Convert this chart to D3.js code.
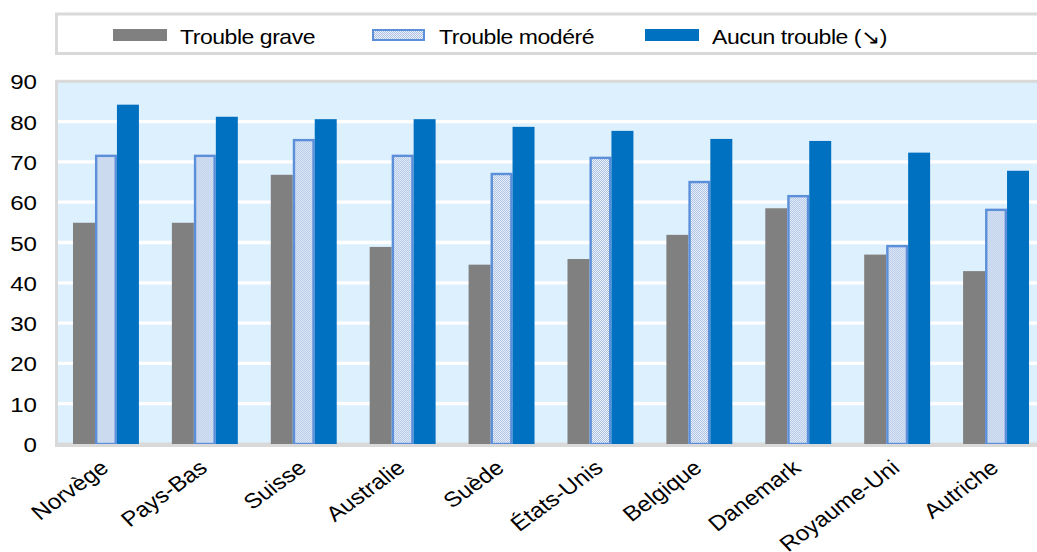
<!DOCTYPE html>
<html>
<head>
<meta charset="utf-8">
<script src="https://cdn.jsdelivr.net/npm/d3@7"></script>
<style>
  body { margin: 0; background: #fff; }
  text { font-family: "Liberation Sans", Arial, sans-serif; fill: #000; }
</style>
</head>
<body>
<div id="chart"></div>
<script>
    // data
    let countries = ["Norvège", "Pays-Bas", "Suisse", "Australie", "Suède", "États-Unis",
        "Belgique", "Danemark", "Royaume-Uni", "Autriche"];
    let seriesNames = ["Trouble grave", "Trouble modéré", "Aucun trouble (↘)"];
    let troubleGrave = [54.9, 54.9, 66.8, 48.9, 44.5, 45.9, 51.9, 58.5, 47.0, 42.9];
    let troubleModere = [71.8, 71.8, 75.7, 71.8, 67.3, 71.3, 65.3, 61.8, 49.4, 58.4];
    let aucunTrouble = [84.2, 81.2, 80.6, 80.6, 78.7, 77.7, 75.7, 75.2, 72.3, 67.8];
    let yTicks = [0, 10, 20, 30, 40, 50, 60, 70, 80, 90];

    let svgWidth = 1037;
    let svgHeight = 552;

    let plot = {left: 56.5, right: 1045.5, top: 81.3, bottom: 444};
    // the original text is a bit wider than it is tall
    let stretch = 1.15;

    let svg = d3.select("#chart")
        .append("svg")
        .attr("width", svgWidth)
        .attr("height", svgHeight);

    //dotted fill for the "modéré" bars
    let defs = svg.append("defs");
    let pat = defs.append("pattern")
        .attr("id", "dots")
        .attr("patternUnits", "userSpaceOnUse")
        .attr("width", 2)
        .attr("height", 2);
    pat.append("rect").attr("width", 2).attr("height", 2).attr("fill", "#eef3fb");
    pat.append("rect").attr("width", 1).attr("height", 1).attr("fill", "#a9c0e4");
    pat.append("rect").attr("x", 1).attr("y", 1).attr("width", 1).attr("height", 1).attr("fill", "#a9c0e4");

    let styles = [
        {fill: "#808080", stroke: "none"},
        {fill: "url(#dots)", stroke: "#5b8fd9"},
        {fill: "#0070c0", stroke: "none"}
    ];

    let rows = countries.map((c, i) => ({
        country: c,
        values: [troubleGrave[i], troubleModere[i], aucunTrouble[i]]
    }));

    //scales
    let x0 = d3.scaleBand()
        .domain(countries)
        .range([plot.left, plot.right])
        .padding(0);

    let x1 = d3.scaleBand()
        .domain([0, 1, 2])
        .range([x0.step() / 6, x0.step() * 5 / 6])
        .padding(0);

    let y = d3.scaleLinear()
        .domain([0, 90])
        .range([plot.bottom, plot.top]);

    //plot background
    svg.append("rect")
        .attr("x", plot.left)
        .attr("y", plot.top)
        .attr("width", plot.right - plot.left)
        .attr("height", plot.bottom - plot.top)
        .attr("fill", "#ddf0fd")
        .attr("stroke", "#d9d9d9")
        .attr("stroke-width", 3);

    //gridlines
    svg.append("g")
        .selectAll("line")
        .data(yTicks.filter(t => t > 0 && t < 90))
        .enter()
        .append("line")
        .attr("x1", plot.left + 1.5)
        .attr("x2", plot.right)
        .attr("y1", d => y(d))
        .attr("y2", d => y(d))
        .attr("stroke", "#fff")
        .attr("stroke-width", 3.3);

    //bars
    let groups = svg.append("g")
        .selectAll("g")
        .data(rows)
        .enter()
        .append("g")
        .attr("transform", d => `translate(${x0(d.country)},0)`);

    groups.selectAll("rect")
        .data(d => d.values.map((v, k) => ({k: k, v: v})))
        .enter()
        .append("rect")
        .attr("x", d => x1(d.k) + (d.k === 1 ? 1.2 : 0))
        .attr("width", d => x1.bandwidth() - (d.k === 1 ? 2.4 : 0))
        .attr("y", d => y(d.v) + (d.k === 1 ? 1.2 : 0))
        .attr("height", d => y(0) - y(d.v) - (d.k === 1 ? 1.2 : 0))
        .attr("fill", d => styles[d.k].fill)
        .attr("stroke", d => styles[d.k].stroke)
        .attr("stroke-width", 2.4);

    //bottom border on top of bars
    svg.append("line")
        .attr("x1", plot.left - 1.5)
        .attr("x2", plot.right)
        .attr("y1", plot.bottom + 1.5)
        .attr("y2", plot.bottom + 1.5)
        .attr("stroke", "#d9d9d9")
        .attr("stroke-width", 3);

    //y axis labels
    let leftAxis = d3.axisLeft(y).tickValues(yTicks).tickSize(0).tickPadding(0);
    let yAxis = svg.append("g")
        .attr("transform", "translate(37,0)")
        .call(leftAxis);
    yAxis.select(".domain").remove();
    yAxis.selectAll("text")
        .attr("font-family", "'Liberation Sans', Arial, sans-serif")
        .attr("font-size", 21)
        .attr("fill", "#000")
        .attr("x", 0)
        .attr("dy", "0.36em")
        .attr("transform", `scale(${stretch},1)`);

    //x axis labels
    svg.append("g")
        .selectAll("text")
        .data(countries)
        .enter()
        .append("text")
        .attr("transform", d => `translate(${x0(d) + x0.step() / 2 + 4}, 470) scale(${stretch},1) rotate(-40)`)
        .attr("text-anchor", "end")
        .attr("font-size", 21)
        .text(d => d);

    //legend
    svg.append("rect")
        .attr("x", plot.left)
        .attr("y", 14)
        .attr("width", plot.right - plot.left)
        .attr("height", 39.5)
        .attr("fill", "#fff")
        .attr("stroke", "#d9d9d9")
        .attr("stroke-width", 3);

    let legendX = [113, 372, 645];
    let legend = svg.append("g")
        .selectAll("g")
        .data(seriesNames)
        .enter()
        .append("g")
        .attr("transform", (d, i) => `translate(${legendX[i]},0)`);

    legend.append("rect")
        .attr("x", (d, i) => i === 1 ? 1 : 0)
        .attr("y", (d, i) => i === 1 ? 30 : 29)
        .attr("width", (d, i) => i === 1 ? 51 : 54)
        .attr("height", (d, i) => i === 1 ? 10 : 12)
        .attr("fill", (d, i) => styles[i].fill)
        .attr("stroke", (d, i) => styles[i].stroke)
        .attr("stroke-width", 2);

    legend.append("text")
        .attr("transform", `translate(67,43.5) scale(${stretch},1)`)
        .attr("font-size", 20)
        .attr("letter-spacing", -0.4)
        .text(d => d);
</script>
</body>
</html>
